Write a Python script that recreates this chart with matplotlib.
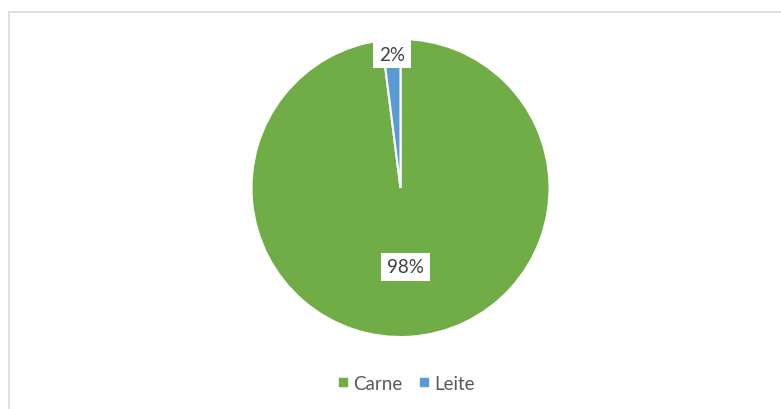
import matplotlib
matplotlib.use("Agg")
import matplotlib.pyplot as plt
import numpy as np
from matplotlib.patches import Rectangle
from matplotlib.lines import Line2D

# Data
categories = ["Carne", "Leite"]
shares = [98, 2]
colors = ["#70AD47", "#5B9BD5"]
label_radius = [0.53, 0.90]

plt.rcParams['font.family'] = ['Lato', 'DejaVu Sans']

W, H = 781, 410
fig = plt.figure(figsize=(W / 100, H / 100), dpi=100)

# chart border (light grey)
fig.patches.append(Rectangle((9 / W, -0.1), 2, (H - 13) / H + 0.1,
                             transform=fig.transFigure, fill=False,
                             edgecolor="#D9D9D9", linewidth=1.2))

cx, cy, r = 400.5, 189, 149
ax = fig.add_axes([(cx - r) / W, (H - cy - r) / H, 2 * r / W, 2 * r / H])
wedges, _ = ax.pie(shares, colors=colors, startangle=90, counterclock=False,
                   wedgeprops=dict(edgecolor="white", linewidth=1.5),
                   radius=1.0)
ax.set_xlim(-1, 1)
ax.set_ylim(-1, 1)
ax.set_aspect("equal")
ax.axis("off")

total = sum(shares)
start = 90
for v, rr in zip(shares, label_radius):
    frac = v / total * 360
    mid = np.deg2rad(start - frac / 2)
    ax.text(rr * np.cos(mid), rr * np.sin(mid), f"{v}%", ha="center", va="center",
            fontsize=13.5, color="#404040",
            bbox=dict(boxstyle="square,pad=0.3", fc="white", ec="none"))
    start -= frac

handles = [Line2D([], [], marker="s", linestyle="none", markersize=5.5,
                  markerfacecolor=c, markeredgecolor=c) for c in colors]
fig.legend(handles, categories, loc="center", bbox_to_anchor=(405 / W, 1 - 384 / H),
           ncol=2, frameon=False, fontsize=13.5, labelcolor="#595959",
           handletextpad=0.1, columnspacing=0.8, handlelength=0.8)

fig.savefig("out.png", dpi=100)
